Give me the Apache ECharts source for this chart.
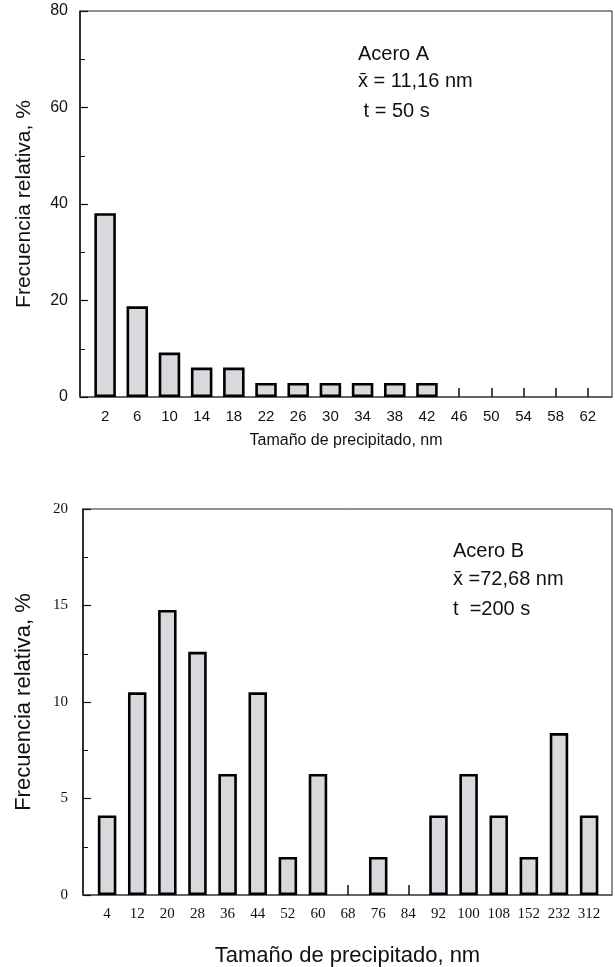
<!DOCTYPE html>
<html>
<head>
<meta charset="utf-8">
<script src="https://cdn.jsdelivr.net/npm/echarts@6/dist/echarts.min.js"></script>
<style>
  html, body { margin: 0; padding: 0; background: #fff; }
  #chart { width: 615px; height: 967px; }
</style>
</head>
<body>
<div id="chart"></div>
<script>
// Acero A (t = 50 s)
var sizesA = ['2', '6', '10', '14', '18', '22', '26', '30', '34', '38', '42', '46', '50', '54', '58', '62']
var freqA = [38.1, 18.8, 9.2, 6.1, 6.1, 2.9, 2.9, 2.9, 2.9, 2.9, 2.9, 0, 0, 0, 0, 0]
var yTicksA = [0, 20, 40, 60, 80]

// Acero B (t = 200 s)
var sizesB = ['4', '12', '20', '28', '36', '44', '52', '60', '68', '76', '84', '92', '100', '108', '152', '232', '312']
var freqB = [4.12, 10.5, 14.77, 12.6, 6.27, 10.5, 1.97, 6.27, 0, 1.97, 0, 4.12, 6.27, 4.12, 1.97, 8.39, 4.12]
var yTicksB = [0, 5, 10, 15, 20]

var notesA = ['Acero A', 'x\u0304 = 11,16 nm', ' t = 50 s']
var notesB = ['Acero B', 'x\u0304 =72,68 nm', 't  =200 s']

var SANS = 'Liberation Sans, Arial, sans-serif'
var SERIF = 'Liberation Serif, Times New Roman, serif'

function idx(list) {
  return list.map(function (_, i) { return i })
}
function pairs(vals) {
  // cero = sin barra
  return vals.map(function (v, i) { return v > 0 ? [i, v] : null }).filter(Boolean)
}

function xAxisCfg(gridIndex, cats, min, max, font, size, name, nameSize, nameGap, tickLen) {
  return {
    type: 'value', gridIndex: gridIndex, min: min, max: max,
    axisLine: { show: true, onZero: false, lineStyle: { color: '#555', width: 1.5 } },
    axisTick: { show: true, inside: true, length: tickLen, customValues: idx(cats), lineStyle: { color: '#111', width: 1.5 } },
    axisLabel: {
      customValues: idx(cats), margin: 12,
      formatter: function (v) { return cats[Math.round(v)] },
      color: '#111', fontFamily: font, fontSize: size
    },
    splitLine: { show: false },
    name: name, nameLocation: 'middle', nameGap: nameGap,
    nameTextStyle: { fontFamily: SANS, fontSize: nameSize, color: '#111' }
  }
}

function yAxisCfg(gridIndex, ticks, font, size, nameSize, nameGap, margin) {
  return {
    type: 'value', gridIndex: gridIndex, min: ticks[0], max: ticks[ticks.length - 1],
    interval: ticks[1] - ticks[0],
    axisLine: { show: true, onZero: false, lineStyle: { color: '#111', width: 1.5 } },
    axisTick: { show: true, inside: true, length: 8, lineStyle: { color: '#111', width: 1.2 } },
    minorTick: { show: true, splitNumber: 2, length: 5, lineStyle: { color: '#111', width: 1 } },
    axisLabel: { color: '#111', fontFamily: font, fontSize: size, margin: margin },
    splitLine: { show: false },
    name: 'Frecuencia relativa, %', nameLocation: 'middle', nameGap: nameGap, nameRotate: 90,
    nameTextStyle: { fontFamily: SANS, fontSize: nameSize, color: '#111' }
  }
}

function noteTexts(lines, left, tops) {
  return lines.map(function (t, i) {
    return {
      type: 'text', left: left[i], top: tops[i],
      style: { text: t, fontFamily: SANS, fontSize: 20, fill: '#111' }
    }
  })
}

var chart = echarts.init(document.getElementById('chart'), null, { renderer: 'canvas' })

var barStyle = { color: '#d8d9dd', borderColor: '#000', borderWidth: 2.6 }

chart.setOption({
  animation: false,
  backgroundColor: '#fff',
  grid: [
    { left: 80, top: 11, right: 3, bottom: 570, show: true, borderColor: '#222', borderWidth: 1, outerBoundsMode: 'none' },
    { left: 83, top: 509, right: 3, bottom: 72, show: true, borderColor: '#222', borderWidth: 1, outerBoundsMode: 'none' }
  ],
  xAxis: [
    xAxisCfg(0, sizesA, -0.78, 15.75, SANS, 15, 'Tamaño de precipitado, nm', 16, 36, 9),
    xAxisCfg(1, sizesB, -0.8, 16.76, SERIF, 15, 'Tamaño de precipitado, nm', 22, 50, 10)
  ],
  yAxis: [
    yAxisCfg(0, yTicksA, SANS, 16, 21, 45, 12),
    yAxisCfg(1, yTicksB, SERIF, 15, 22, 48, 15)
  ],
  series: [
    { type: 'bar', xAxisIndex: 0, yAxisIndex: 0, data: pairs(freqA), barWidth: 21.5, itemStyle: barStyle },
    { type: 'bar', xAxisIndex: 1, yAxisIndex: 1, data: pairs(freqB), barWidth: 18.5, itemStyle: barStyle }
  ],
  graphic: noteTexts(notesA, [358, 358, 358], [44, 71, 101])
    .concat(noteTexts(notesB, [453, 453, 453], [541, 569, 599]))
})
</script>
</body>
</html>
